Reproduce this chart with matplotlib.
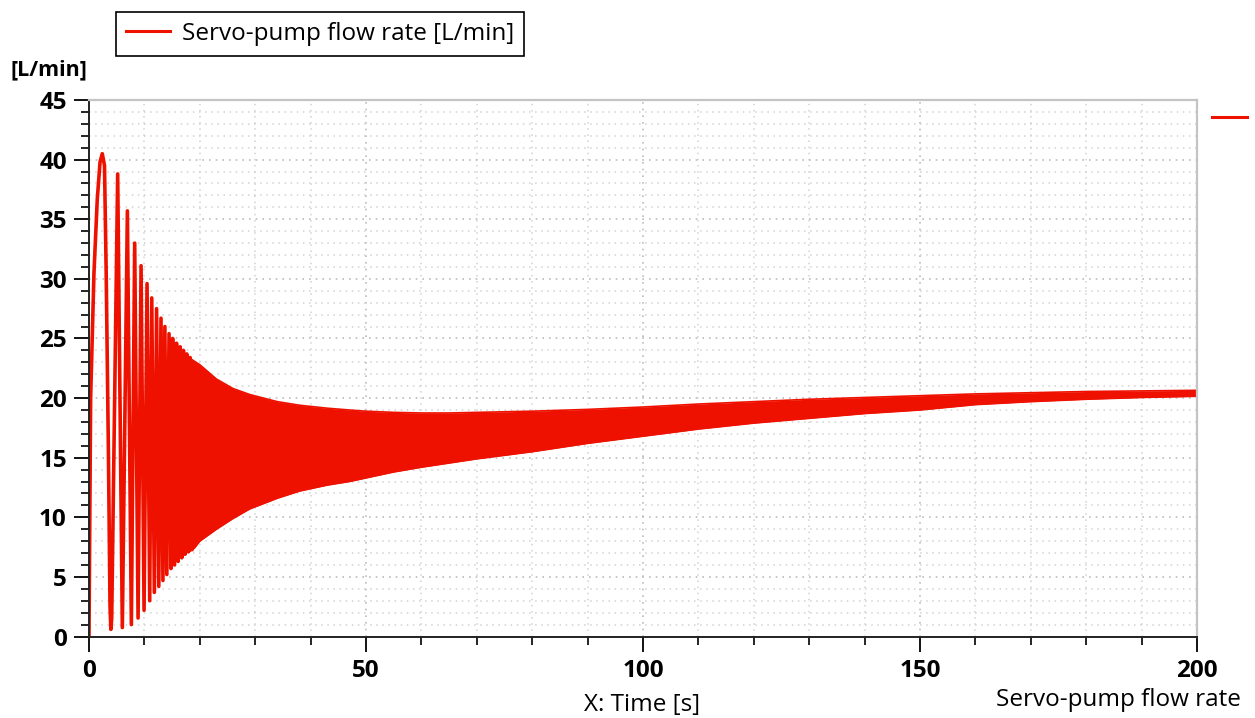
import matplotlib.pyplot as plt
from matplotlib.lines import Line2D
from matplotlib.ticker import MultipleLocator

plt.rcParams['font.family'] = ['Open Sans', 'DejaVu Sans']

# Start-up transient: individual swings of the pump flow (time [s], flow [L/min])
t_swing = [0.0, 0.3, 0.9, 1.5, 2.0, 2.4, 2.8, 3.1, 3.5, 3.8, 3.95, 4.1,
           5.18, 6.02, 6.93, 7.65, 8.25, 8.86, 9.40, 9.94, 10.48, 10.96,
           11.33, 11.8, 12.2, 12.6, 13.0, 13.35, 13.7, 14.05, 14.45, 14.8,
           15.1, 15.45, 15.8, 16.1, 16.45, 16.75, 17.05, 17.35, 17.65, 17.95,
           18.25, 18.55]
q_swing = [0.0, 20.0, 30.5, 36.7, 39.8, 40.5, 39.5, 30.7, 15.8, 2.5, 0.6, 1.5,
           38.8, 0.75, 35.7, 1.0, 33.0, 1.55, 31.1, 2.2, 29.6, 3.0,
           28.4, 3.7, 27.5, 4.2, 26.7, 4.7, 26.0, 5.2, 25.4, 5.7,
           25.0, 6.0, 24.6, 6.3, 24.3, 6.6, 24.0, 6.9, 23.7, 7.1,
           23.4, 7.3]

# Fast oscillation afterwards: upper and lower envelope of the band
t_env = [18.0, 19, 20, 23, 26, 29, 34, 38, 43, 47, 50, 55, 60, 65, 70, 80,
         90, 100, 110, 120, 130, 140, 150, 160, 170, 180, 190, 200]
q_upper = [23.4, 23.1, 22.8, 21.6, 20.8, 20.3, 19.7, 19.4, 19.15, 19.0, 18.9,
           18.8, 18.75, 18.75, 18.8, 18.9, 19.05, 19.25, 19.5, 19.7, 19.9,
           20.05, 20.2, 20.35, 20.45, 20.55, 20.6, 20.65]
q_lower = [7.1, 7.4, 8.0, 9.0, 9.9, 10.7, 11.6, 12.2, 12.7, 13.0, 13.3, 13.8,
           14.2, 14.55, 14.9, 15.5, 16.2, 16.8, 17.4, 17.9, 18.3, 18.7, 19.0,
           19.45, 19.7, 19.9, 20.05, 20.15]

red = '#ee1100'

fig = plt.figure(figsize=(12.55, 7.18), dpi=100)
ax = fig.add_axes([0.0709, 0.1135, 0.8829, 0.7472])

ax.plot(t_swing, q_swing, color=red, lw=2.6, solid_joinstyle='round')
ax.fill_between(t_env, q_lower, q_upper, color=red, lw=0)
ax.plot(t_env, q_upper, color=red, lw=1.2)
ax.plot(t_env, q_lower, color=red, lw=1.2)

ax.set_xlim(0, 200)
ax.set_ylim(0, 45)
ax.xaxis.set_major_locator(MultipleLocator(50))
ax.xaxis.set_minor_locator(MultipleLocator(10))
ax.yaxis.set_major_locator(MultipleLocator(5))
ax.yaxis.set_minor_locator(MultipleLocator(1))

ax.grid(which='minor', color='#d2d2d2', ls=(0, (1, 3)), lw=1.1)
ax.grid(which='major', color='#bcbcbc', ls=(0, (1, 3)), lw=1.2)
ax.set_axisbelow(True)

ax.tick_params(which='major', direction='out', length=11, width=1.3,
               labelsize=17.5, pad=5)
ax.tick_params(which='minor', direction='out', length=6, width=1.2)
for lab in ax.get_xticklabels() + ax.get_yticklabels():
    lab.set_fontweight('bold')

for side in ['left', 'bottom']:
    ax.spines[side].set_linewidth(1.4)
    ax.spines[side].set_color('#222222')
for side in ['top', 'right']:
    ax.spines[side].set_linewidth(1.6)
    ax.spines[side].set_color('#c4c4c4')

fig.text(0.008, 0.902, '[L/min]', fontsize=15.5, fontweight='bold', va='center')
fig.text(0.512, 0.018, 'X: Time [s]', fontsize=17.5, ha='center', va='center')
fig.text(0.989, 0.025, 'Servo-pump flow rate', fontsize=17.5, ha='right',
         va='center')

# short marker line in the right margin
fig.add_artist(Line2D([0.966, 0.994], [0.837, 0.837], color=red, lw=2.2))

leg = fig.legend([Line2D([], [], color=red, lw=2.2)],
                 ['Servo-pump flow rate [L/min]'],
                 loc='center', bbox_to_anchor=(0.255, 0.953), fontsize=17.5,
                 fancybox=False, edgecolor='black', framealpha=1,
                 handlelength=1.8, handletextpad=0.5, borderpad=0.42)
leg.get_frame().set_linewidth(1.2)

fig.savefig('out.png', dpi=100)
